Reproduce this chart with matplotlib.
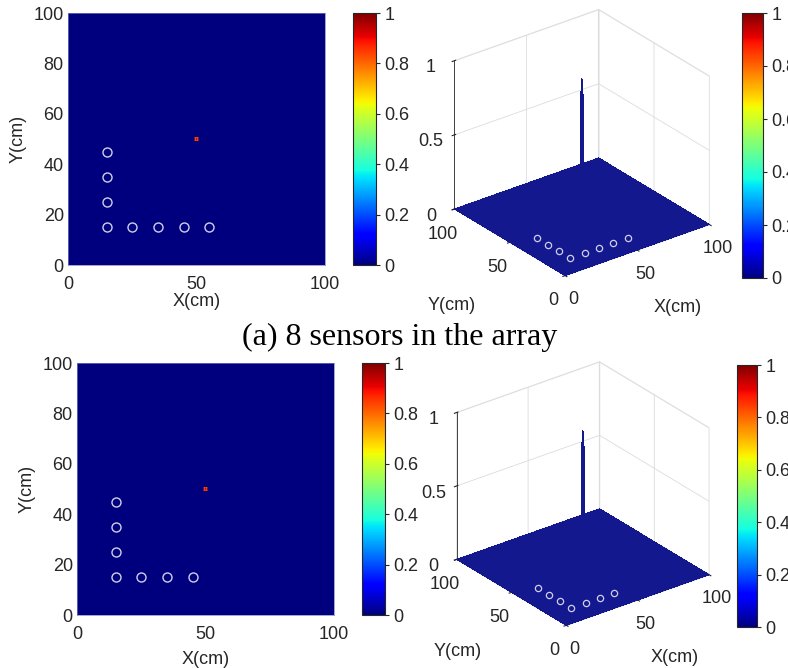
import numpy as np
import matplotlib
matplotlib.use('Agg')
import matplotlib.pyplot as plt
from mpl_toolkits.mplot3d import Axes3D  # noqa

plt.rcParams['font.family'] = ['Liberation Sans', 'DejaVu Sans']

##########################
# data
##########################
grid_step = 0.5                      # cm
grid_max = 100                       # cm
source_xy = [50, 50]                 # source position (cm)
# peak values around the source cell (3x3 cells)
peak_vals = [[0.80, 0.87, 0.80],
             [0.87, 0.93, 0.87],
             [0.80, 0.87, 0.80]]

# (a) 8 sensors
sensors_a_x = [15, 25, 35, 45, 55, 15, 15, 15]
sensors_a_y = [15, 15, 15, 15, 15, 25, 35, 45]
# (b) 7 sensors
sensors_b_x = [15, 25, 35, 45, 15, 15, 15]
sensors_b_y = [15, 15, 15, 15, 25, 35, 45]

caption_a = '(a) 8 sensors in the array'
cb_ticks = [0, 0.2, 0.4, 0.6, 0.8, 1]
cb_labels = ['0', '0.2', '0.4', '0.6', '0.8', '1']

tick_color = '#262626'
ring_color = '#cfcfe8'
FS = 13

xs = np.arange(0, grid_max + grid_step, grid_step)
ys = np.arange(0, grid_max + grid_step, grid_step)
X, Y = np.meshgrid(xs, ys)
Z = np.zeros_like(X)
ci = int(round(source_xy[1] / grid_step))
cj = int(round(source_xy[0] / grid_step))
Z[ci - 1:ci + 2, cj - 1:cj + 2] = np.array(peak_vals)

fig = plt.figure(figsize=(7.88, 6.68), dpi=100)
W, H = 788.0, 668.0


def box(x0, y0, x1, y1):
    return [x0 / W, 1 - y1 / H, (x1 - x0) / W, (y1 - y0) / H]


def style_cb(cb):
    cb.set_ticks(cb_ticks)
    cb.set_ticklabels(cb_labels)
    cb.ax.tick_params(labelsize=FS, colors=tick_color, length=3, pad=3)
    cb.outline.set_edgecolor('#262626')
    cb.outline.set_linewidth(0.8)


def heat_panel(rect_ax, rect_cb, sx, sy, xlabpad):
    ax = fig.add_axes(box(*rect_ax))
    im = ax.imshow(Z, origin='lower', extent=[0, grid_max, 0, grid_max],
                   cmap='jet', vmin=0, vmax=1, interpolation='antialiased',
                   interpolation_stage='rgba', aspect='auto')
    ax.plot(sx, sy, 'o', mfc='none', mec=ring_color, ms=6.5, mew=1.0)
    ax.set_xlim(0, 100)
    ax.set_ylim(0, 100)
    ax.set_xticks([0, 50, 100])
    ax.set_yticks([0, 20, 40, 60, 80, 100])
    ax.tick_params(axis='x', labelsize=FS, colors=tick_color, length=0, pad=8)
    ax.tick_params(axis='y', labelsize=FS, colors=tick_color, length=0, pad=3)
    for s in ax.spines.values():
        s.set_edgecolor('#8080c0')
        s.set_linewidth(0.5)
    ax.set_xlabel('X(cm)', fontsize=FS, color=tick_color, labelpad=xlabpad)
    ax.set_ylabel('Y(cm)', fontsize=FS, color=tick_color, labelpad=5)
    cax = fig.add_axes(box(*rect_cb))
    cb = fig.colorbar(im, cax=cax)
    style_cb(cb)
    return ax


def surf_panel(rect_ax, rect_cb, sx, sy, xlab_xy, ylab_xy, zoom):
    ax = fig.add_axes(box(*rect_ax), projection='3d')
    ax.set_proj_type('ortho')
    ax.set_box_aspect((1, 1, 0.92), zoom=zoom)
    ax.patch.set_facecolor('none')
    ax.plot_surface(X, Y, Z, rcount=Z.shape[0], ccount=Z.shape[1],
                    color='#14188e', linewidth=0, shade=False, antialiased=False)
    # light mesh lines on the spike
    sl = (slice(ci - 2, ci + 3), slice(cj - 2, cj + 3))
    ax.plot_wireframe(X[sl], Y[sl], Z[sl], color='white', linewidth=0.6, alpha=0.85)
    ax.plot(sx, sy, np.zeros(len(sx)), 'o', mfc='none', mec=ring_color,
            ms=4.5, mew=0.9, zorder=5)
    ax.view_init(elev=27.5, azim=-127.5)
    ax.set_xlim(0, 100)
    ax.set_ylim(0, 100)
    ax.set_zlim(0, 1)
    ax.set_xticks([0, 50, 100])
    ax.set_yticks([0, 50, 100])
    ax.set_zticks([0, 0.5, 1])
    ax.set_zticklabels(['0', '0.5', '1'])
    ax.tick_params(labelsize=FS, colors=tick_color)
    ax.tick_params(axis='x', pad=0)
    ax.tick_params(axis='y', pad=1)
    ax.tick_params(axis='z', pad=2)
    for a in (ax.xaxis, ax.yaxis, ax.zaxis):
        a.pane.set_facecolor((1, 1, 1, 0))
        a.pane.set_edgecolor('#dcdcdc')
        a._axinfo['grid']['color'] = '#dcdcdc'
        a._axinfo['grid']['linewidth'] = 0.6
        a.line.set_color('#262626')
        a.line.set_linewidth(0.6)
    fig.text(xlab_xy[0] / W, 1 - xlab_xy[1] / H, 'X(cm)', fontsize=FS,
             color=tick_color, ha='center', va='center')
    fig.text(ylab_xy[0] / W, 1 - ylab_xy[1] / H, 'Y(cm)', fontsize=FS,
             color=tick_color, ha='center', va='center')
    cax = fig.add_axes(box(*rect_cb))
    sm = plt.cm.ScalarMappable(cmap='jet', norm=plt.Normalize(0, 1))
    cb = fig.colorbar(sm, cax=cax)
    style_cb(cb)
    return ax


surf_panel((428, 2, 728, 291), (742, 13, 763, 278), sensors_a_x, sensors_a_y,
           (678, 307), (452, 305), 1.03)
surf_panel((429, 353, 729, 642), (737, 365, 757, 627), sensors_b_x, sensors_b_y,
           (675, 657), (458, 652), 1.02)
heat_panel((68, 13, 325, 265), (353, 13, 376, 265), sensors_a_x, sensors_a_y, 0)
heat_panel((77, 363, 334, 615), (362, 363, 385, 615), sensors_b_x, sensors_b_y, 6)
fig.text(400 / W, 1 - 337 / H, caption_a, family=['Liberation Serif', 'DejaVu Serif'],
         fontsize=23, ha='center', va='center', color='black')

fig.savefig('out.png', dpi=100)
